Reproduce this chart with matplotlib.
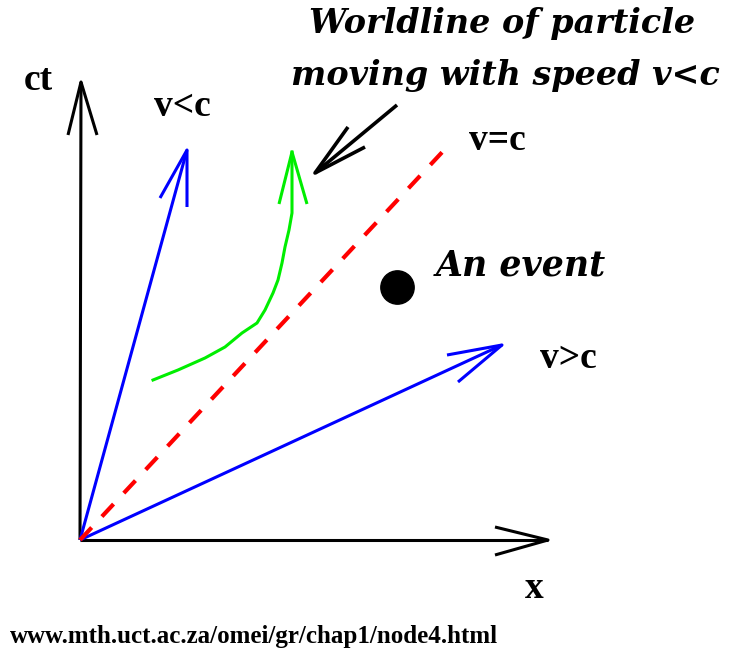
import numpy as np
import matplotlib
matplotlib.use("Agg")
import matplotlib.pyplot as plt

# coordinates measured from the origin of the diagram (x right, ct up)
ct_axis = [(0, 0), (1, 458)]
ct_head = [(-12, 405), (1, 458), (17, 405)]
x_axis = [(0, 0), (468, 0)]
x_head = [(415, 13), (468, 0), (415, -15)]

slow_line = [(0, 0), (107, 390)]
slow_head = [(80, 342), (107, 390), (107, 333)]
fast_line = [(0, 0), (422, 195)]
fast_head = [(367, 185), (422, 195), (378, 158)]
light_line = [(0, 0), (367, 393)]

world_x = [73, 98, 125, 145, 162, 177, 185, 193, 198, 202, 205, 209, 212, 212, 212]
world_y = [160, 170, 182, 193, 207, 217, 230, 247, 260, 277, 293, 310, 327, 340, 388]
world_head = [(199, 336), (212, 388), (227, 336)]

pointer_line = [(317, 435), (235, 367)]
pointer_head = [(268, 413), (235, 367), (285, 393)]

event = (317, 253)

fig = plt.figure(figsize=(7.47, 6.51), dpi=100)
ax = fig.add_axes([0, 0, 1, 1])
ax.set_xlim(-80, 667)
ax.set_ylim(-111, 540)
ax.axis("off")


def draw(pts, color, lw=2.2, **kw):
    xs, ys = zip(*pts)
    ax.plot(xs, ys, color=color, lw=lw, solid_capstyle="butt",
            solid_joinstyle="round", **kw)


draw(ct_axis, "black")
draw(ct_head, "black")
draw(x_axis, "black")
draw(x_head, "black")

draw(slow_line, "blue")
draw(slow_head, "blue")
draw(fast_line, "blue")
draw(fast_head, "blue")

xs, ys = zip(*light_line)
ax.plot(xs, ys, color="red", lw=3, dashes=(4.1, 3.6))

ax.plot(world_x, world_y, color="#00ee00", lw=2.2, solid_joinstyle="round")
draw(world_head, "#00ee00")

draw(pointer_line, "black", lw=2.6)
draw(pointer_head, "black", lw=2.6)

ax.plot(*event, "o", color="black", markersize=24)

serif = "Liberation Serif"
fancy = dict(family="DejaVu Serif", weight="bold", style="italic", ha="center", va="center")

ax.text(422, 517, "Worldline of particle", fontsize=24, **fancy)
ax.text(425, 464, "moving with speed v<c", fontsize=24, **fancy)
ax.text(441, 274, "An event", fontsize=25, **fancy)

plain = dict(family=serif, weight="bold", ha="center", va="center")
ax.text(-42, 459, "ct", fontsize=27, **plain)
ax.text(102, 434, "v<c", fontsize=27, **plain)
ax.text(417, 400, "v=c", fontsize=27, **plain)
ax.text(488, 181, "v>c", fontsize=27, **plain)
ax.text(454, -49, "x", fontsize=27, **plain)
ax.text(-70, -97, "www.mth.uct.ac.za/omei/gr/chap1/node4.html", fontsize=18,
        family=serif, weight="bold", ha="left", va="center")

fig.savefig("out.png", dpi=100)
